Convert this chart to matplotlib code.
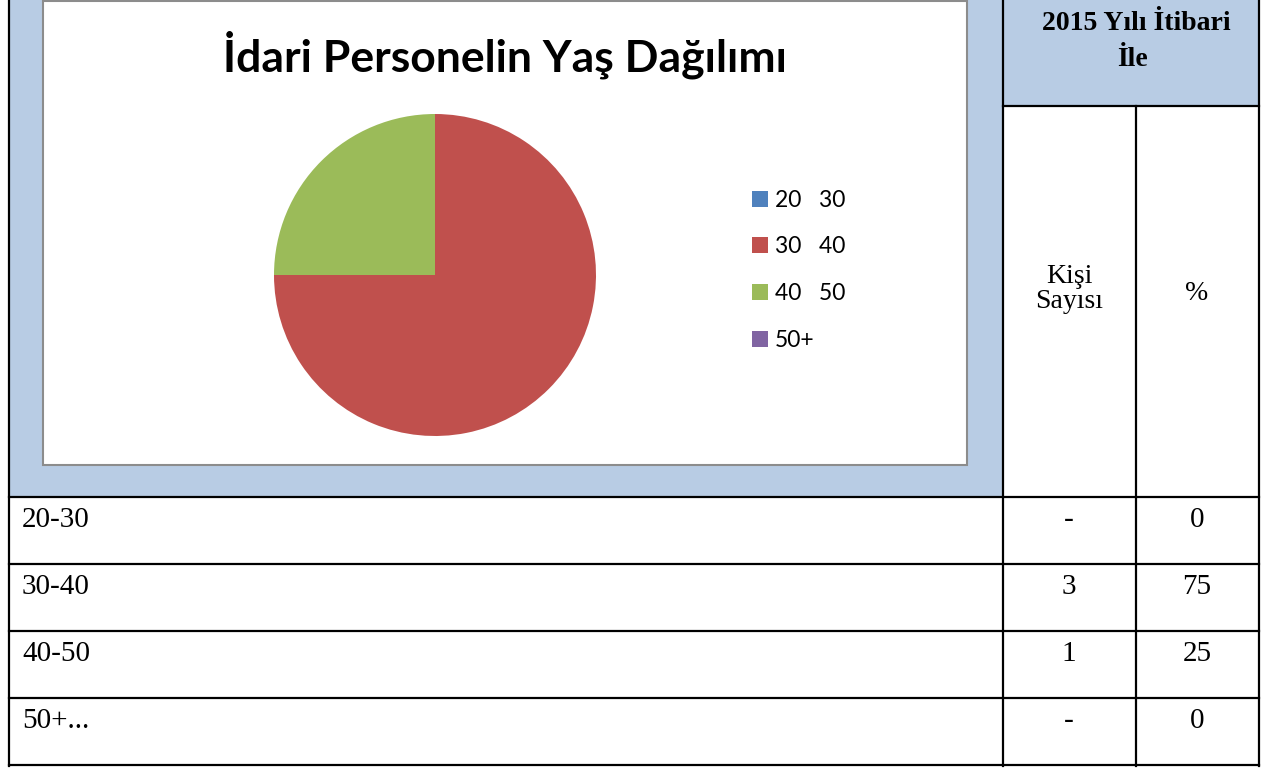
import matplotlib.pyplot as plt
from matplotlib.patches import Rectangle

# data
age_groups = ["20-30", "30-40", "40-50", "50+..."]
legend_labels = ["20   30", "30   40", "40   50", "50+"]
counts = ["-", "3", "1", "-"]
percents = [0, 75, 25, 0]
colors = ["#4F81BD", "#C0504D", "#9BBB59", "#8064A2"]

W, H = 1263, 769
fig = plt.figure(figsize=(W / 100, H / 100), dpi=100)

# background axes in pixel coordinates
bg = fig.add_axes([0, 0, 1, 1])
bg.set_xlim(0, W)
bg.set_ylim(H, 0)
bg.axis("off")

light_blue = "#B8CCE4"
bg.add_patch(Rectangle((9, 0), 994, 497, color=light_blue, lw=0))
bg.add_patch(Rectangle((1003, 0), 256, 106, color=light_blue, lw=0))
# chart area
bg.add_patch(Rectangle((43, 1), 924, 464, facecolor="white", edgecolor="#8C8C8C", lw=1.5))

# table lines
lw = 1.6
bg.plot([9, 9], [0, 766], color="black", lw=lw)
bg.plot([1259, 1259], [0, 766], color="black", lw=lw)
bg.plot([1003, 1003], [0, 766], color="black", lw=lw)
bg.plot([1136, 1136], [106, 766], color="black", lw=lw)
bg.plot([1003, 1259], [106, 106], color="black", lw=lw)
row_y = [497, 564, 631, 698, 765]
for y in row_y:
    bg.plot([9, 1259], [y, y], color="black", lw=lw)

serif = "Liberation Serif"
fs = 20
bg.text(1136, 23, "2015 Yılı İtibari", ha="center", va="center", fontsize=fs,
        fontweight="bold", family=serif)
bg.text(1133, 59, "İle", ha="center", va="center", fontsize=fs,
        fontweight="bold", family=serif)
bg.text(1069, 289, "Kişi\nSayısı", ha="center", va="center", fontsize=fs, family=serif,
        linespacing=1.05)
bg.text(1197, 293, "%", ha="center", va="center", fontsize=fs, family=serif)

tfs = 21
for i, grp in enumerate(age_groups):
    top = row_y[i]
    bg.text(22, top + 23, grp, ha="left", va="center", fontsize=tfs, family=serif)
    bg.text(1069, top + 23, counts[i], ha="center", va="center", fontsize=tfs, family=serif)
    bg.text(1197, top + 23, str(percents[i]), ha="center", va="center", fontsize=tfs, family=serif)

bg.text(505, 55, "İdari Personelin Yaş Dağılımı", ha="center", va="center",
        fontsize=32, fontweight="bold", family="Lato")

# pie
cx, cy, r = 435, 275, 161
pax = fig.add_axes([(cx - r) / W, (H - cy - r) / H, 2 * r / W, 2 * r / H])
wedges, _ = pax.pie(percents, colors=colors, startangle=90, counterclock=False,
                    radius=1)
pax.set_xlim(-1, 1)
pax.set_ylim(-1, 1)
pax.set_aspect("equal")

fig.legend(wedges, legend_labels, loc="upper left", bbox_to_anchor=(731 / W, 1 - 169 / H),
           frameon=False, handlelength=0.7, handleheight=0.7,
           handletextpad=0.3, labelspacing=1.12, prop={"family": "Lato", "size": 16.5})

fig.savefig("out.png", dpi=100)
